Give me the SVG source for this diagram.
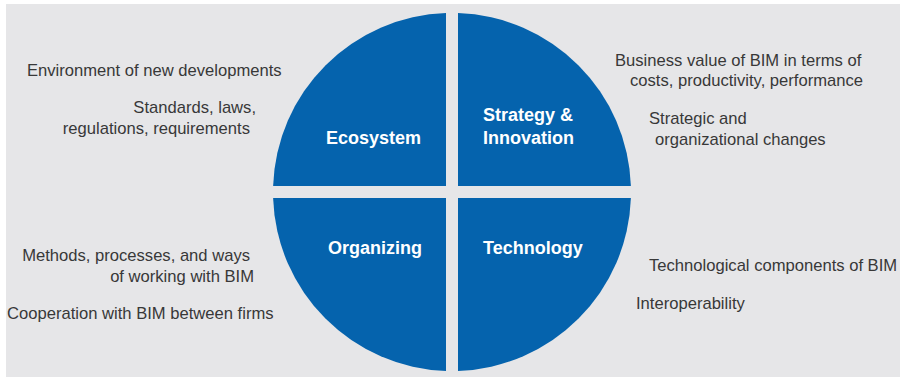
<svg xmlns="http://www.w3.org/2000/svg" width="900" height="377" viewBox="0 0 900 377">
  <style>
    .note { font-family: "Liberation Sans", Arial, sans-serif; font-size: 16.6px; fill: #383838; }
    .label { font-family: "Liberation Sans", Arial, sans-serif; font-size: 18px; font-weight: bold; fill: #ffffff; }
    .quad { fill: #0563ad; }
  </style>
  <rect x="0" y="0" width="900" height="377" fill="#ffffff"/>
  <rect x="6" y="4" width="894" height="373" fill="#e6e6e8"/>

  <g id="ecosystem">
    <path class="quad" d="M446,186 L446,13.1 A179,179 0 0 0 273.1,186 Z"/>
    <text class="label" x="326" y="144">Ecosystem</text>
  </g>
  <g id="strategy-innovation">
    <path class="quad" d="M458,186 L630.9,186 A179,179 0 0 0 458,13.1 Z"/>
    <text class="label" x="483" y="121">Strategy &amp;</text>
    <text class="label" x="483" y="144">Innovation</text>
  </g>
  <g id="organizing">
    <path class="quad" d="M446,198 L273.1,198 A179,179 0 0 0 446,370.9 Z"/>
    <text class="label" x="328" y="254">Organizing</text>
  </g>
  <g id="technology">
    <path class="quad" d="M458,198 L458,370.9 A179,179 0 0 0 630.9,198 Z"/>
    <text class="label" x="483" y="254">Technology</text>
  </g>

  <g id="connectors"></g>

  <g id="notes-ecosystem">
    <text class="note" x="27" y="76">Environment of new developments</text>
    <text class="note" x="256" y="113" text-anchor="end">Standards, laws,</text>
    <text class="note" x="250" y="134" text-anchor="end">regulations, requirements</text>
  </g>
  <g id="notes-strategy">
    <text class="note" x="615" y="66">Business value of BIM in terms of</text>
    <text class="note" x="630" y="86">costs, productivity, performance</text>
    <text class="note" x="649" y="124">Strategic and</text>
    <text class="note" x="655" y="145">organizational changes</text>
  </g>
  <g id="notes-organizing">
    <text class="note" x="250" y="261" text-anchor="end">Methods, processes, and ways</text>
    <text class="note" x="254" y="282" text-anchor="end">of working with BIM</text>
    <text class="note" x="7" y="319">Cooperation with BIM between firms</text>
  </g>
  <g id="notes-technology">
    <text class="note" x="649" y="271">Technological components of BIM</text>
    <text class="note" x="636" y="309">Interoperability</text>
  </g>
</svg>
